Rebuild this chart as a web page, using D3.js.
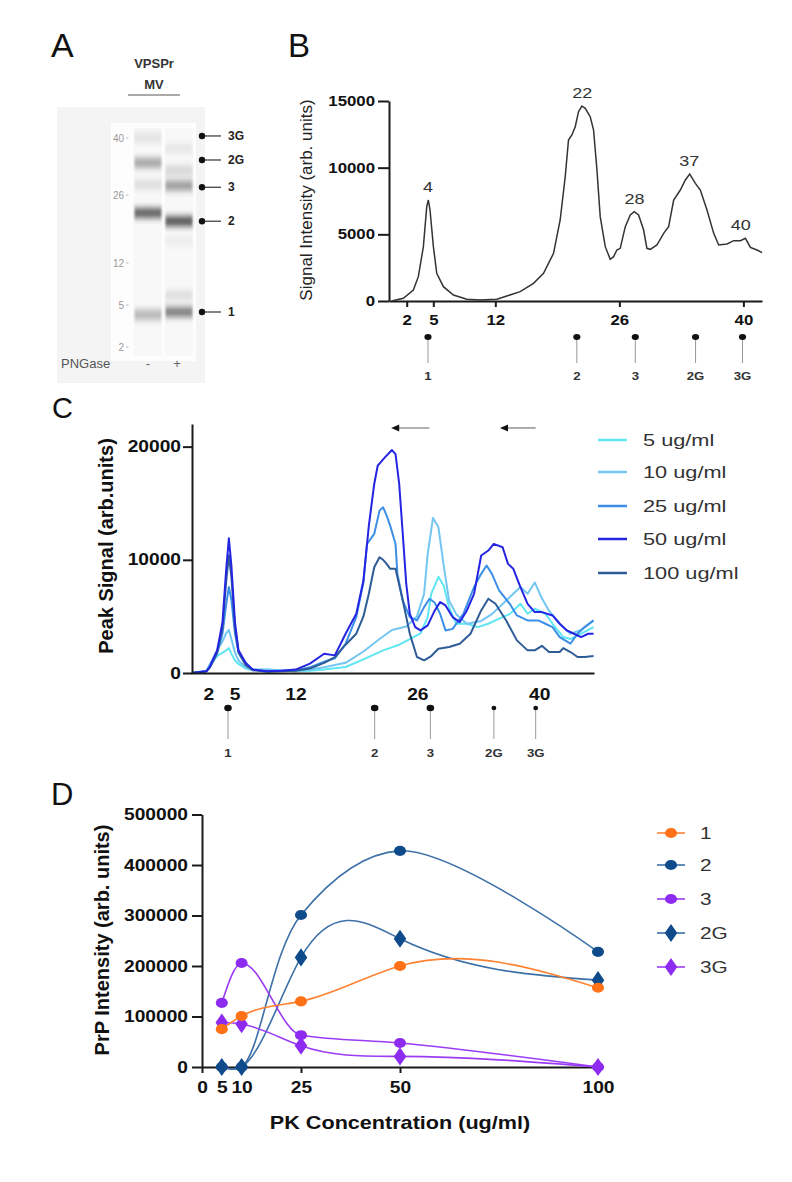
<!DOCTYPE html>
<html><head><meta charset="utf-8">
<script src="https://cdn.jsdelivr.net/npm/d3@7"></script>
<style>
body{margin:0;background:#fff}
svg{display:block}
text{font-family:"Liberation Sans",Arial,Helvetica,sans-serif}
</style>
</head><body>
<svg id="fig" width="792" height="1182"></svg>
<script>
// ---------------- DATA ----------------
// Panel A (gel)
const gelLadder = [2, 5, 12, 26, 40];
const gelLaneMinus = [[40, 0.10], [33.9, 0.40], [28.6, 0.12], [22.3, 0.75], [4.3, 0.32]];
const gelLanePlus = [[37.4, 0.08], [32.0, 0.16], [28.3, 0.45], [20.6, 0.80], [16.5, 0.05], [6.6, 0.12], [4.5, 0.60]];
const gelMarkerLabels = ["3G", "2G", "3", "2", "1"];
const gelMarkerMW = [40.5, 34.6, 27.9, 20.6, 4.5];
const lanePNGase = ["-", "+"];

// Panel B
const mwTicks = [2, 5, 12, 26, 40];
const bandLabels = ["1", "2", "3", "2G", "3G"];
const bandMW_B = [4.4, 21.2, 27.8, 34.6, 39.9];
const peakLabels = ["4", "22", "28", "37", "40"];
const peakMW = [4.4, 21.8, 27.7, 33.9, 39.7];
const peakSignal = [7575, 14625, 6700, 9525, 4700];
const traceB = [[0.3,0],[1.62,200],[2.75,825],[3.31,1825],[3.88,4075],[4.26,7075],[4.44,7575],[4.63,6825],[5.01,4075],[5.39,2075],[6.14,1075],[7.27,450],[8.78,125],[10.28,75],[12.17,125],[13.3,375],[14.8,700],[16.31,1325],[17.44,2075],[18.57,3575],[19.32,6075],[19.89,9325],[20.26,12075],[20.64,12450],[21.02,13075],[21.39,14200],[21.77,14625],[22.15,14450],[22.71,13825],[23.09,12825],[23.47,9825],[23.84,6325],[24.41,4075],[24.97,3125],[25.35,3325],[25.72,3825],[26.1,3950],[26.67,5575],[27.23,6450],[27.68,6700],[28.17,6450],[28.74,5325],[29.11,3950],[29.49,3875],[30.24,4200],[31.0,5075],[31.56,5575],[32.13,7575],[32.88,8325],[33.45,9075],[33.94,9525],[34.58,8825],[35.14,8325],[35.89,6825],[36.65,5075],[37.21,4200],[38.15,4275],[38.91,4525],[39.66,4525],[40.23,4700],[40.79,4025],[41.54,3825],[42.11,3625]];

// Panel C
const concLabels = ["5 ug/ml", "10 ug/ml", "25 ug/ml", "50 ug/ml", "100 ug/ml"];
const bandMW_C = [4.25, 21.1, 27.5, 34.8, 39.6];
const trace5 = [[0.13,0],[1.77,200],[2.18,700],[3.0,1500],[3.62,1800],[4.03,2000],[4.35,2200],[4.64,1700],[5.05,1100],[5.46,800],[6.28,400],[7.1,250],[8.74,300],[10.38,200],[12.02,150],[13.66,200],[15.3,300],[17.76,529],[19.81,1200],[22.07,2000],[23.92,2500],[25.14,3000],[26.37,3500],[27.19,4939],[27.6,7000],[28.42,8500],[29.03,7732],[29.65,5800],[30.47,4351],[31.7,4351],[32.93,4057],[34.16,4351],[35.39,4800],[36.62,5200],[37.85,6115],[38.67,5233],[39.49,5674],[40.72,5233],[41.54,4351],[42.77,3175],[43.59,3000],[44.82,3469],[46.25,4057]];
const trace10 = [[0.13,0],[1.77,200],[2.18,800],[3.0,2000],[3.62,2800],[4.03,3500],[4.35,3800],[4.64,3000],[5.05,1800],[5.46,1100],[6.28,500],[7.1,300],[8.74,300],[10.38,250],[12.02,150],[13.66,300],[15.3,500],[17.76,900],[19.81,1900],[21.66,3000],[23.09,3800],[24.73,4100],[25.96,5000],[26.78,7000],[27.19,10500],[27.8,13700],[28.42,12900],[29.03,9500],[29.65,6400],[30.47,5200],[31.7,4350],[33.34,4600],[34.57,5200],[35.8,6100],[37.03,7000],[37.85,7600],[38.67,7000],[39.49,8000],[40.31,6600],[41.13,5500],[42.36,4351],[43.59,3469],[44.82,3800],[46.25,4645]];
const trace25 = [[0.13,0],[1.77,150],[2.18,500],[3.0,1700],[3.62,3500],[4.03,6000],[4.35,7600],[4.64,6500],[5.05,3500],[5.46,1800],[6.28,800],[7.1,300],[8.74,150],[10.38,200],[12.02,250],[13.66,500],[15.3,1000],[16.53,1300],[17.76,2587],[18.99,4939],[19.81,8000],[20.22,11400],[21.05,12289],[21.66,14347],[22.07,14641],[22.48,13906],[22.89,13000],[23.5,11400],[23.71,8761],[24.33,6400],[25.14,4939],[25.96,4645],[26.78,5821],[27.4,6556],[28.01,6200],[28.62,5233],[29.24,3763],[30.06,3900],[31.29,5233],[32.52,7585],[33.34,8761],[33.96,9496],[34.57,8761],[35.39,7300],[36.62,6115],[37.44,5086],[38.67,4645],[39.9,4645],[40.72,4351],[41.54,4057],[42.36,3175],[43.59,2587],[44.41,3469],[45.22,4057],[46.25,4645]];
const trace50 = [[0.13,0],[1.77,150],[2.18,600],[3.0,2000],[3.62,4500],[4.03,9000],[4.35,11900],[4.64,9500],[5.05,4500],[5.46,2000],[6.28,900],[7.1,300],[8.74,150],[10.38,200],[12.02,300],[13.66,823],[15.3,1705],[16.53,1558],[17.76,3469],[18.99,5233],[19.81,8173],[20.43,13000],[21.05,16699],[21.45,18316],[22.28,19051],[23.09,19698],[23.5,19345],[23.92,16699],[24.33,12289],[24.73,7880],[25.14,5233],[25.76,4057],[26.37,3763],[27.19,4204],[28.01,5527],[28.62,6262],[29.24,5968],[30.06,4939],[30.88,4498],[31.7,5527],[32.52,6997],[33.34,10378],[34.16,10819],[34.78,11407],[35.8,11113],[36.42,9643],[37.03,9202],[37.85,7585],[38.67,6115],[39.49,5380],[40.31,5380],[41.54,5086],[42.36,4351],[43.18,3763],[44.0,3469],[44.82,3175],[45.63,3469],[46.25,3469]];
const trace100 = [[0.13,0],[1.77,150],[2.18,500],[3.0,1800],[3.62,4000],[4.03,8000],[4.35,10400],[4.64,8500],[5.05,4000],[5.46,1800],[6.28,700],[7.1,250],[8.74,100],[10.38,150],[12.02,200],[13.66,400],[15.3,900],[16.53,1411],[17.76,2500],[18.99,3469],[19.81,5000],[20.43,7000],[21.05,9349],[21.66,10231],[22.07,10000],[22.48,9643],[22.89,9202],[23.5,9202],[24.33,6409],[25.14,3469],[25.96,1411],[26.78,1117],[27.6,1500],[28.42,2146],[29.65,2293],[30.88,2587],[32.11,3469],[33.34,5527],[34.16,6556],[34.98,6115],[36.21,4645],[37.44,2881],[38.67,2000],[39.49,2000],[40.31,2400],[41.13,1852],[42.36,1852],[42.77,2200],[43.59,1852],[44.41,1411],[45.22,1411],[46.25,1500]];
const arrowsC = [[27.4, 23.0], [39.6, 35.5]]; // from -> to (MW)
const arrowSignal = 21650;

// Panel D
const pkConc = [5, 10, 25, 50, 100];
const pkTicks = [0, 5, 10, 25, 50, 100];
const seriesNames = ["1", "2", "3", "2G", "3G"];
const band1 = [75000, 101000, 130000, 200000, 157000];
const band2 = [0, 0, 301000, 428000, 228000];
const band3 = [127000, 206000, 63000, 47500, 0];
const band2G = [0, 0, 217000, 254000, 172000];
const band3G = [88000, 85000, 42000, 21000, 0];

// ---------------- HELPERS ----------------
const svg = d3.select("#fig");
function T(parent, x, y, str, o = {}) {
  let tr = `translate(${x},${y})`;
  if (o.sx) tr += ` scale(${o.sx},1)`;
  if (o.rot) tr += ` rotate(${o.rot})`;
  return parent.append("text").attr("transform", tr)
    .attr("font-size", o.size || 12).attr("font-weight", o.weight || "normal")
    .attr("text-anchor", o.anchor || "start").attr("fill", o.fill || "#111")
    .attr("dy", o.dy || 0).text(str);
}
function styleAxis(g, o) {
  g.select(".domain").attr("stroke", "#1a1a1a").attr("stroke-width", o.sw || 2);
  g.selectAll(".tick line").attr("stroke", "#1a1a1a").attr("stroke-width", o.sw || 2);
  g.selectAll(".tick text").attr("font-size", o.size).attr("font-weight", "bold")
    .attr("fill", "#111").attr("font-family", null)
    .each(function () {
      const t = d3.select(this);
      const x = +t.attr("x") || 0;
      t.attr("x", x / o.sx).attr("transform", `scale(${o.sx},1)`);
    });
}
// natural cubic spline y(x) as a d3 curve (x must increase)
function NaturalX(ctx) { this._context = ctx; }
NaturalX.prototype = {
  areaStart() { this._line = 0; }, areaEnd() { this._line = NaN; },
  lineStart() { this._x = []; this._y = []; },
  point(x, y) { this._x.push(+x); this._y.push(+y); },
  lineEnd() {
    const X = this._x, Y = this._y, n = X.length, c = this._context;
    if (!n) return;
    c.moveTo(X[0], Y[0]);
    if (n < 3) { for (let i = 1; i < n; i++) c.lineTo(X[i], Y[i]); return; }
    const h = [], s = [];
    for (let i = 0; i < n - 1; i++) { h[i] = X[i + 1] - X[i]; s[i] = (Y[i + 1] - Y[i]) / h[i]; }
    const m = n - 2, a = [], b = [], cc = [], r = [];
    for (let k = 0; k < m; k++) { const i = k + 1; a[k] = h[i - 1]; b[k] = 2 * (h[i - 1] + h[i]); cc[k] = h[i]; r[k] = 6 * (s[i] - s[i - 1]); }
    for (let k = 1; k < m; k++) { const w = a[k] / b[k - 1]; b[k] -= w * cc[k - 1]; r[k] -= w * r[k - 1]; }
    const M = new Array(n).fill(0);
    M[m] = r[m - 1] / b[m - 1];
    for (let k = m - 2; k >= 0; k--) M[k + 1] = (r[k] - cc[k] * M[k + 2]) / b[k];
    for (let i = 0; i < n - 1; i++) {
      const d0 = s[i] - h[i] * (2 * M[i] + M[i + 1]) / 6, d1 = s[i] + h[i] * (M[i] + 2 * M[i + 1]) / 6;
      c.bezierCurveTo(X[i] + h[i] / 3, Y[i] + d0 * h[i] / 3, X[i + 1] - h[i] / 3, Y[i + 1] - d1 * h[i] / 3, X[i + 1], Y[i + 1]);
    }
  }
};
const curveNaturalX = ctx => new NaturalX(ctx);

const defs = svg.append("defs");
defs.append("filter").attr("id", "blurBand").attr("x", "-10%").attr("y", "-300%")
  .attr("width", "120%").attr("height", "700%")
  .append("feGaussianBlur").attr("stdDeviation", "0.9 3.2");

// ---------------- PANEL A ----------------
T(svg, 51, 57, "A", { size: 34 });
const gA = svg.append("g");
gA.append("rect").attr("x", 57).attr("y", 107).attr("width", 148).attr("height", 276).attr("fill", "#f4f4f4");
gA.append("rect").attr("x", 111).attr("y", 123).attr("width", 85).attr("height", 238).attr("fill", "#fdfdfd");
const gy = d3.scaleLinear().domain(gelLadder).range([347, 305, 263, 195, 138]);
const lanes = [{ x0: 134, x1: 162, bands: gelLaneMinus }, { x0: 165, x1: 193, bands: gelLanePlus }];
lanes.forEach(l => {
  gA.append("rect").attr("x", l.x0).attr("y", 128).attr("width", l.x1 - l.x0).attr("height", 228).attr("fill", "#f8f8f8");
  gA.selectAll(null).data(l.bands).enter().append("rect")
    .attr("x", l.x0 + 0.5).attr("width", l.x1 - l.x0 - 1)
    .attr("y", d => gy(d[0]) - 5).attr("height", 10)
    .attr("fill", "#222").attr("opacity", d => d[1] * 0.95).attr("filter", "url(#blurBand)");
});
gelLadder.forEach(v => {
  T(gA, 124, gy(v), v, { size: 10, anchor: "end", fill: "#9a9a9a", dy: "0.35em" });
  gA.append("line").attr("x1", 126).attr("x2", 128.5).attr("y1", gy(v)).attr("y2", gy(v)).attr("stroke", "#bbb");
});
gelMarkerMW.forEach((m, i) => {
  const y = gy(m);
  gA.append("line").attr("x1", 202).attr("x2", 221).attr("y1", y).attr("y2", y).attr("stroke", "#333").attr("stroke-width", 1.2);
  gA.append("circle").attr("cx", 202).attr("cy", y).attr("r", 3.2).attr("fill", "#111");
  T(gA, 228, y, gelMarkerLabels[i], { size: 12, weight: "bold", fill: "#222", dy: "0.35em" });
});
T(gA, 154, 68, "VPSPr", { size: 13, weight: "bold", anchor: "middle", fill: "#333" });
T(gA, 154, 89, "MV", { size: 13, weight: "bold", anchor: "middle", fill: "#333" });
gA.append("line").attr("x1", 128).attr("x2", 180).attr("y1", 95).attr("y2", 95).attr("stroke", "#aaa").attr("stroke-width", 2);
T(gA, 61, 368, "PNGase", { size: 13, fill: "#555" });
T(gA, 148, 368, lanePNGase[0], { size: 13, fill: "#666", anchor: "middle" });
T(gA, 177, 368, lanePNGase[1], { size: 13, fill: "#666", anchor: "middle" });

// ---------------- PANEL B ----------------
T(svg, 288, 57, "B", { size: 33 });
const gB = svg.append("g");
const xB = d3.scaleLinear().domain([0, 42.1]).range([389, 762]);
const yB = d3.scaleLinear().domain([0, 15000]).range([301, 101]);
const axBy = gB.append("g").attr("transform", "translate(389,0)")
  .call(d3.axisLeft(yB).tickValues([0, 5000, 10000, 15000]).tickSize(11).tickSizeOuter(0).tickPadding(3).tickFormat(d3.format("d")));
styleAxis(axBy, { size: 14, sx: 1.2 });
const axBx = gB.append("g").attr("transform", "translate(0,301)")
  .call(d3.axisBottom(xB).tickValues(mwTicks).tickSize(6).tickSizeOuter(0).tickPadding(8));
styleAxis(axBx, { size: 14, sx: 1.2 });
gB.append("path").datum(traceB).attr("fill", "none").attr("stroke", "#333").attr("stroke-width", 1.5)
  .attr("d", d3.line().x(d => xB(d[0])).y(d => yB(d[1])));
peakLabels.forEach((p, i) => T(gB, xB(peakMW[i]), yB(peakSignal[i]) - 8, p, { size: 15, anchor: "middle", fill: "#333", sx: 1.2 }));
T(gB, 312, 200, "Signal Intensity (arb. units)", { size: 17, anchor: "middle", rot: -90, fill: "#222" });
bandMW_B.forEach((m, i) => {
  const x = xB(m);
  gB.append("line").attr("x1", x).attr("x2", x).attr("y1", 337).attr("y2", 363).attr("stroke", "#999").attr("stroke-width", 1);
  gB.append("ellipse").attr("cx", x).attr("cy", 337).attr("rx", 3.6).attr("ry", 3).attr("fill", "#111");
  T(gB, x, 376, bandLabels[i], { size: 11, weight: "bold", anchor: "middle", fill: "#333", dy: "0.35em", sx: 1.2 });
});

// ---------------- PANEL C ----------------
T(svg, 52, 418, "C", { size: 29 });
const gC = svg.append("g");
const xC = d3.scaleLinear().domain([0, 46.3]).range([191, 594]);
const yC = d3.scaleLinear().domain([0, 22000]).range([673, 424]);
const colorsC = ["#5fe6f3", "#74c6f2", "#3b8fe6", "#2424e2", "#2e5c97"];
const tracesC = [trace5, trace10, trace25, trace100, trace50];
const traceColorIdx = [0, 1, 2, 4, 3];
const lineC = d3.line().x(d => xC(d[0])).y(d => yC(d[1]));
tracesC.forEach((tr, i) => {
  gC.append("path").datum(tr).attr("fill", "none").attr("stroke", colorsC[traceColorIdx[i]])
    .attr("stroke-width", 2).attr("stroke-linejoin", "round").attr("d", lineC);
});
const axCy = gC.append("g").attr("transform", "translate(192,0)")
  .call(d3.axisLeft(yC).tickValues([0, 10000, 20000]).tickSize(9).tickSizeOuter(0).tickPadding(2).tickFormat(d3.format("d")));
styleAxis(axCy, { size: 16, sx: 1.2 });
const axCx = gC.append("g").attr("transform", "translate(0,673)")
  .call(d3.axisBottom(xC).tickValues(mwTicks).tickSize(0).tickSizeOuter(0).tickPadding(16));
styleAxis(axCx, { size: 16, sx: 1.2 });
T(gC, 113, 546, "Peak Signal (arb.units)", { size: 20, weight: "bold", anchor: "middle", rot: -90, fill: "#111" });
bandMW_C.forEach((m, i) => {
  const x = xC(m);
  gC.append("line").attr("x1", x).attr("x2", x).attr("y1", 708).attr("y2", 739).attr("stroke", "#999").attr("stroke-width", 1);
  const small = i >= 3;
  gC.append("ellipse").attr("cx", x).attr("cy", 708).attr("rx", small ? 2.4 : 3.8).attr("ry", small ? 2.2 : 3.3).attr("fill", "#111");
  T(gC, x, 753, bandLabels[i], { size: 11.5, weight: "bold", anchor: "middle", fill: "#333", dy: "0.35em", sx: 1.15 });
});
arrowsC.forEach(a => {
  const y = yC(arrowSignal);
  gC.append("line").attr("x1", xC(a[0])).attr("x2", xC(a[1]) + 6).attr("y1", y).attr("y2", y).attr("stroke", "#999").attr("stroke-width", 1.6);
  const x = xC(a[1]);
  gC.append("path").attr("d", `M${x},${y} L${x + 8},${y - 3.5} L${x + 8},${y + 3.5} Z`).attr("fill", "#111");
});
// legend C
concLabels.forEach((c, i) => {
  const y = [440, 472, 506, 539, 573][i];
  gC.append("line").attr("x1", 598).attr("x2", 627).attr("y1", y).attr("y2", y).attr("stroke", colorsC[i]).attr("stroke-width", 2.5);
  T(gC, 643, y, c, { size: 17, fill: "#333", dy: "0.35em", sx: 1.28 });
});

// ---------------- PANEL D ----------------
T(svg, 51, 805, "D", { size: 31 });
const gD = svg.append("g");
const xD = d3.scaleLinear().domain([0, 100]).range([202, 598]);
const yD = d3.scaleLinear().domain([0, 500000]).range([1067, 814.5]);
const axDy = gD.append("g").attr("transform", "translate(202,0)")
  .call(d3.axisLeft(yD).ticks(5).tickSize(10).tickSizeOuter(0).tickPadding(4).tickFormat(d3.format("d")));
styleAxis(axDy, { size: 16, sx: 1.2 });
const axDx = gD.append("g").attr("transform", "translate(0,1067)")
  .call(d3.axisBottom(xD).tickValues(pkTicks).tickSize(6).tickSizeOuter(0).tickPadding(9));
styleAxis(axDx, { size: 16, sx: 1.2 });
T(gD, 400, 1129, "PK Concentration (ug/ml)", { size: 18, weight: "bold", anchor: "middle", sx: 1.2 });
T(gD, 109, 940, "PrP Intensity (arb. units)", { size: 20, weight: "bold", anchor: "middle", rot: -90 });
const seriesD = [
  { name: seriesNames[0], vals: band1, line: "#ff8233", fill: "#ff7117", shape: d3.symbolCircle, curve: curveNaturalX },
  { name: seriesNames[1], vals: band2, line: "#3c70a7", fill: "#0f4b8a", shape: d3.symbolCircle, curve: d3.curveCatmullRom.alpha(0.5) },
  { name: seriesNames[2], vals: band3, line: "#9b3cf5", fill: "#8d2cf0", shape: d3.symbolCircle, curve: d3.curveMonotoneX },
  { name: seriesNames[3], vals: band2G, line: "#3c70a7", fill: "#0f4b8a", shape: d3.symbolDiamond, curve: curveNaturalX },
  { name: seriesNames[4], vals: band3G, line: "#9b3cf5", fill: "#8d2cf0", shape: d3.symbolDiamond, curve: curveNaturalX }
];
const drawOrder = [3, 1, 4, 2, 0];
drawOrder.forEach(k => {
  const s = seriesD[k];
  const pts = pkConc.map((c, i) => [c, s.vals[i]]);
  const lineD = d3.line().curve(s.curve).x(d => xD(d[0])).y(d => yD(d[1]));
  gD.append("path").datum(pts).attr("fill", "none").attr("stroke", s.line).attr("stroke-width", 1.6).attr("d", lineD);
});
drawOrder.forEach(k => {
  const s = seriesD[k];
  const sym = d3.symbol().type(s.shape).size(s.shape === d3.symbolCircle ? 80 : 95);
  pkConc.forEach((c, i) => {
    gD.append("path").attr("d", sym()).attr("fill", s.fill)
      .attr("transform", `translate(${xD(c)},${yD(s.vals[i])}) scale(1.2,1)`);
  });
});
seriesD.forEach((s, i) => {
  const y = [833, 865, 899, 933, 967][i];
  gD.append("line").attr("x1", 657).attr("x2", 685).attr("y1", y).attr("y2", y).attr("stroke", s.line).attr("stroke-width", 1.6);
  const sym = d3.symbol().type(s.shape).size(s.shape === d3.symbolCircle ? 80 : 95);
  gD.append("path").attr("d", sym()).attr("fill", s.fill).attr("transform", `translate(671,${y}) scale(1.2,1)`);
  T(gD, 700, y, s.name, { size: 16, fill: "#333", dy: "0.35em", sx: 1.3 });
});
</script>
</body></html>
